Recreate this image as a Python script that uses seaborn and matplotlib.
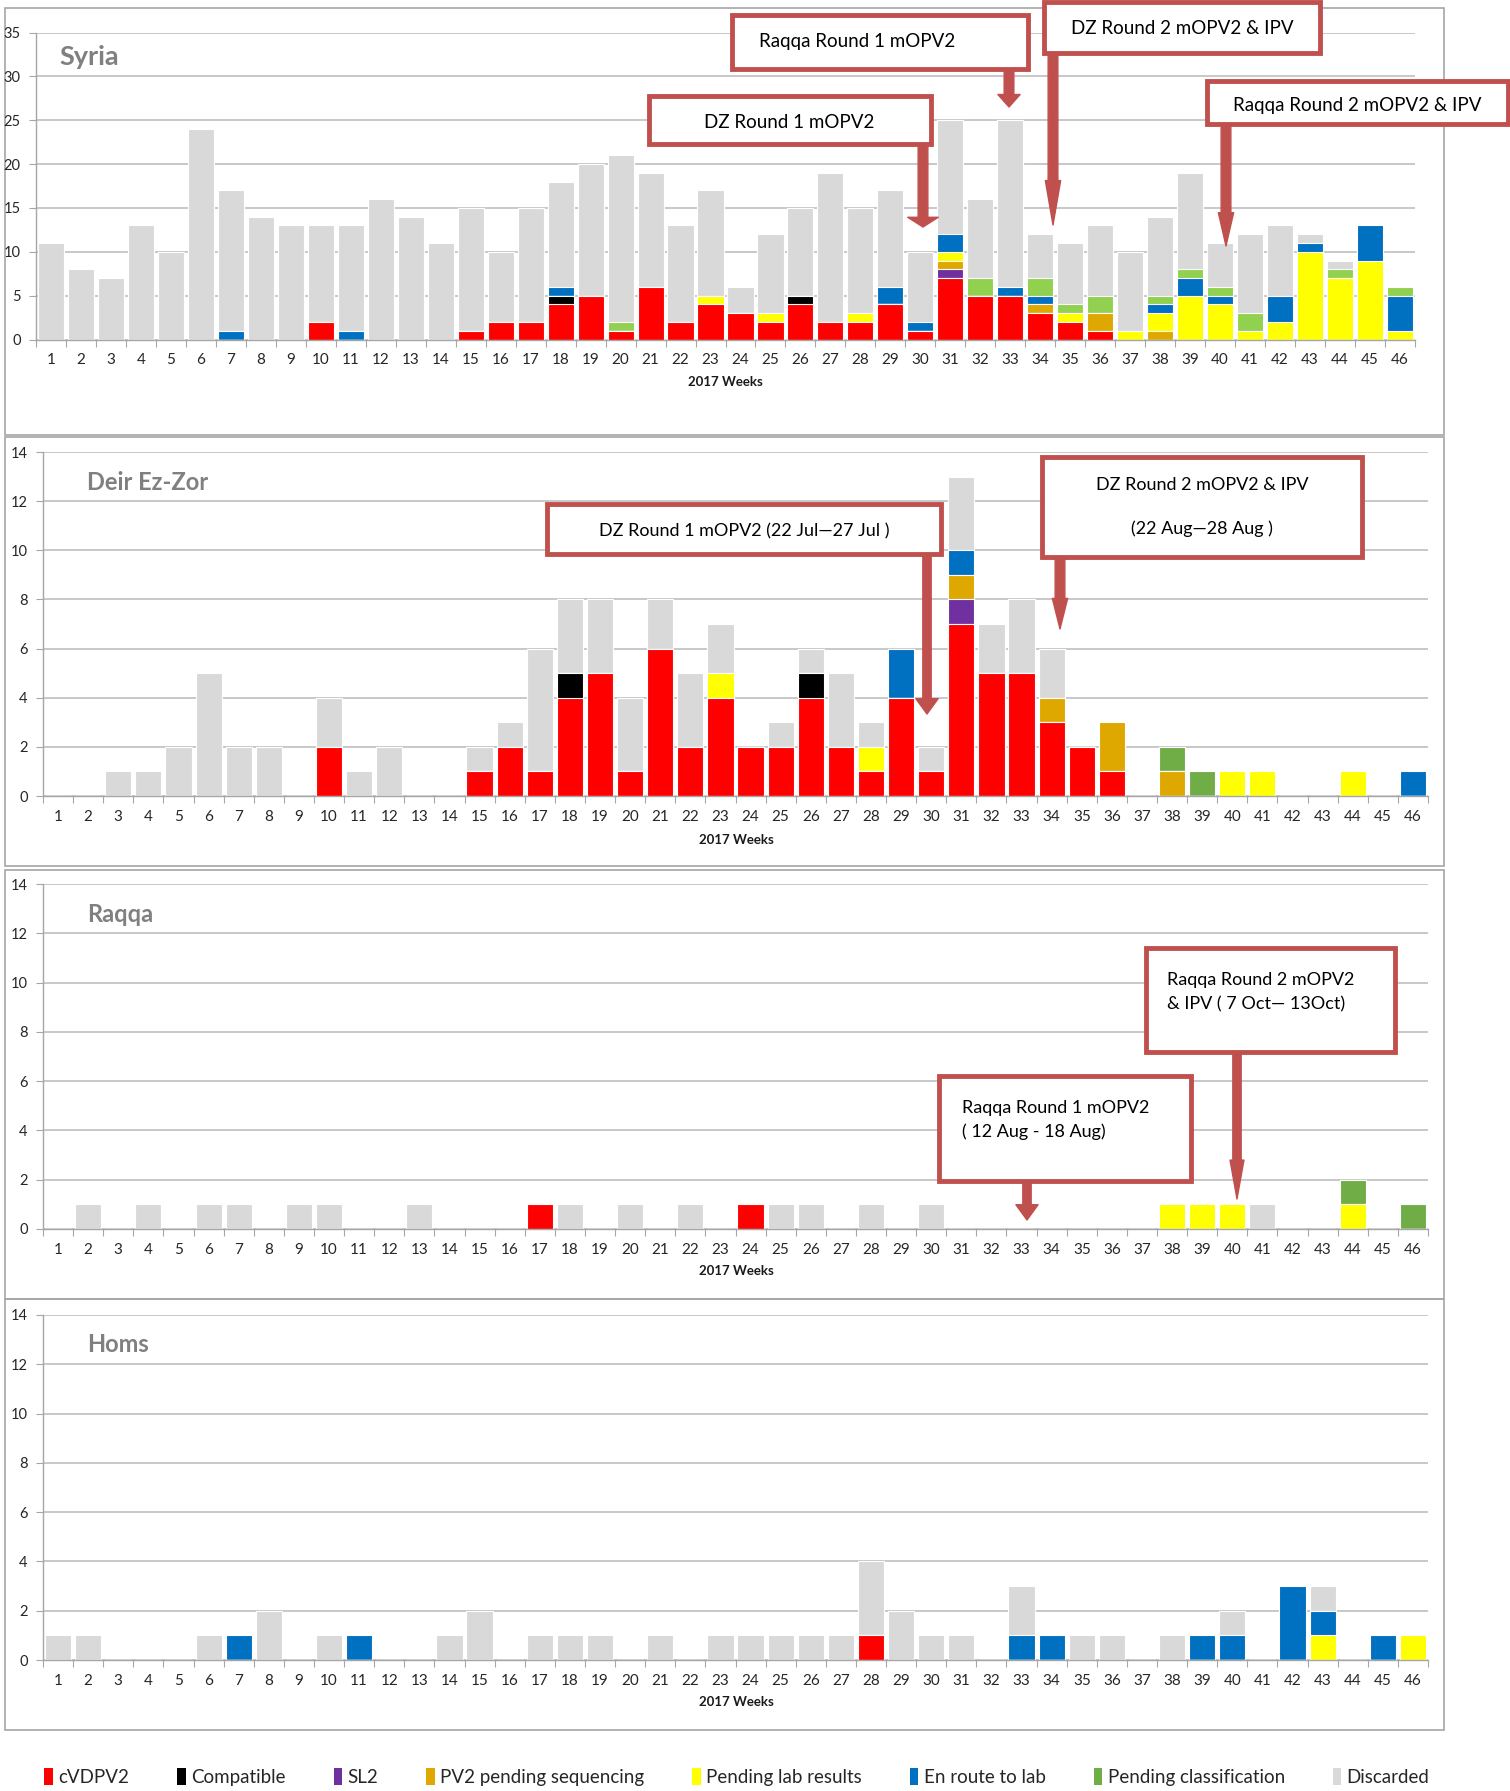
import matplotlib
matplotlib.use("Agg")
import pandas as pd
import matplotlib.pyplot as plt
import seaborn as sns
from matplotlib.patches import Rectangle, Patch, FancyArrowPatch

W, H = 1510, 1791

WEEKS = list(range(1, 47))
CATEGORIES = ["cVDPV2", "Compatible", "SL2", "PV2 pending sequencing",
              "Pending lab results", "En route to lab", "Pending classification", "Discarded"]
COLORS = ["#FF0000", "#000000", "#7030A0", "#DFA800",
          "#FFFF00", "#0070C0", "#70AD47", "#D9D9D9"]
SYRIA_GREEN = "#92D050"
CALLOUT_RED = "#C0504D"

NONE = [0] * 46

# ---- Syria (weeks 1..46) ----
SYRIA_CVDPV2 = [0, 0, 0, 0, 0, 0, 0, 0, 0, 2,  0, 0, 0, 0, 1, 2, 2, 4, 5, 1,
                6, 2, 4, 3, 2, 4, 2, 2, 4, 1,  7, 5, 5, 3, 2, 1, 0, 0, 0, 0,
                0, 0, 0, 0, 0, 0]
SYRIA_COMPATIBLE = [0, 0, 0, 0, 0, 0, 0, 0, 0, 0,  0, 0, 0, 0, 0, 0, 0, 1, 0, 0,
                    0, 0, 0, 0, 0, 1, 0, 0, 0, 0,  0, 0, 0, 0, 0, 0, 0, 0, 0, 0,
                    0, 0, 0, 0, 0, 0]
SYRIA_SL2 = [0, 0, 0, 0, 0, 0, 0, 0, 0, 0,  0, 0, 0, 0, 0, 0, 0, 0, 0, 0,
             0, 0, 0, 0, 0, 0, 0, 0, 0, 0,  1, 0, 0, 0, 0, 0, 0, 0, 0, 0,
             0, 0, 0, 0, 0, 0]
SYRIA_PV2_PENDING = [0, 0, 0, 0, 0, 0, 0, 0, 0, 0,  0, 0, 0, 0, 0, 0, 0, 0, 0, 0,
                     0, 0, 0, 0, 0, 0, 0, 0, 0, 0,  1, 0, 0, 1, 0, 2, 0, 1, 0, 0,
                     0, 0, 0, 0, 0, 0]
SYRIA_PENDING_LAB = [0, 0, 0, 0, 0, 0, 0, 0, 0, 0,  0, 0, 0, 0, 0, 0, 0, 0, 0, 0,
                     0, 0, 1, 0, 1, 0, 0, 1, 0, 0,  1, 0, 0, 0, 1, 0, 1, 2, 5, 4,
                     1, 2, 10, 7, 9, 1]
SYRIA_EN_ROUTE = [0, 0, 0, 0, 0, 0, 1, 0, 0, 0,  1, 0, 0, 0, 0, 0, 0, 1, 0, 0,
                  0, 0, 0, 0, 0, 0, 0, 0, 2, 1,  2, 0, 1, 1, 0, 0, 0, 1, 2, 1,
                  0, 3, 1, 0, 4, 4]
SYRIA_PENDING_CLASS = [0, 0, 0, 0, 0, 0, 0, 0, 0, 0,  0, 0, 0, 0, 0, 0, 0, 0, 0, 1,
                       0, 0, 0, 0, 0, 0, 0, 0, 0, 0,  0, 2, 0, 2, 1, 2, 0, 1, 1, 1,
                       2, 0, 0, 1, 0, 1]
SYRIA_DISCARDED = [11, 8, 7, 13, 10, 24, 16, 14, 13, 11,  12, 16, 14, 11, 14, 8, 13, 12, 15, 19,
                   13, 11, 12, 3, 9, 10, 17, 12, 11, 8,  13, 9, 19, 5, 7, 8, 9, 9, 11, 5,
                   9, 8, 1, 1, 0, 0]

# ---- Deir Ez-Zor ----
DZ_CVDPV2 = [0, 0, 0, 0, 0, 0, 0, 0, 0, 2,  0, 0, 0, 0, 1, 2, 1, 4, 5, 1,
             6, 2, 4, 2, 2, 4, 2, 1, 4, 1,  7, 5, 5, 3, 2, 1, 0, 0, 0, 0,
             0, 0, 0, 0, 0, 0]
DZ_COMPATIBLE = [0, 0, 0, 0, 0, 0, 0, 0, 0, 0,  0, 0, 0, 0, 0, 0, 0, 1, 0, 0,
                 0, 0, 0, 0, 0, 1, 0, 0, 0, 0,  0, 0, 0, 0, 0, 0, 0, 0, 0, 0,
                 0, 0, 0, 0, 0, 0]
DZ_SL2 = [0, 0, 0, 0, 0, 0, 0, 0, 0, 0,  0, 0, 0, 0, 0, 0, 0, 0, 0, 0,
          0, 0, 0, 0, 0, 0, 0, 0, 0, 0,  1, 0, 0, 0, 0, 0, 0, 0, 0, 0,
          0, 0, 0, 0, 0, 0]
DZ_PV2_PENDING = [0, 0, 0, 0, 0, 0, 0, 0, 0, 0,  0, 0, 0, 0, 0, 0, 0, 0, 0, 0,
                  0, 0, 0, 0, 0, 0, 0, 0, 0, 0,  1, 0, 0, 1, 0, 2, 0, 1, 0, 0,
                  0, 0, 0, 0, 0, 0]
DZ_PENDING_LAB = [0, 0, 0, 0, 0, 0, 0, 0, 0, 0,  0, 0, 0, 0, 0, 0, 0, 0, 0, 0,
                  0, 0, 1, 0, 0, 0, 0, 1, 0, 0,  0, 0, 0, 0, 0, 0, 0, 0, 0, 1,
                  1, 0, 0, 1, 0, 0]
DZ_EN_ROUTE = [0, 0, 0, 0, 0, 0, 0, 0, 0, 0,  0, 0, 0, 0, 0, 0, 0, 0, 0, 0,
               0, 0, 0, 0, 0, 0, 0, 0, 2, 0,  1, 0, 0, 0, 0, 0, 0, 0, 0, 0,
               0, 0, 0, 0, 0, 1]
DZ_PENDING_CLASS = [0, 0, 0, 0, 0, 0, 0, 0, 0, 0,  0, 0, 0, 0, 0, 0, 0, 0, 0, 0,
                    0, 0, 0, 0, 0, 0, 0, 0, 0, 0,  0, 0, 0, 0, 0, 0, 0, 1, 1, 0,
                    0, 0, 0, 0, 0, 0]
DZ_DISCARDED = [0, 0, 1, 1, 2, 5, 2, 2, 0, 2,  1, 2, 0, 0, 1, 1, 5, 3, 3, 3,
                2, 3, 2, 0, 1, 1, 3, 1, 0, 1,  3, 2, 3, 2, 0, 0, 0, 0, 0, 0,
                0, 0, 0, 0, 0, 0]

# ---- Raqqa ----
RQ_CVDPV2 = [0, 0, 0, 0, 0, 0, 0, 0, 0, 0,  0, 0, 0, 0, 0, 0, 1, 0, 0, 0,
             0, 0, 0, 1, 0, 0, 0, 0, 0, 0,  0, 0, 0, 0, 0, 0, 0, 0, 0, 0,
             0, 0, 0, 0, 0, 0]
RQ_PENDING_LAB = [0, 0, 0, 0, 0, 0, 0, 0, 0, 0,  0, 0, 0, 0, 0, 0, 0, 0, 0, 0,
                  0, 0, 0, 0, 0, 0, 0, 0, 0, 0,  0, 0, 0, 0, 0, 0, 0, 1, 1, 1,
                  0, 0, 0, 1, 0, 0]
RQ_PENDING_CLASS = [0, 0, 0, 0, 0, 0, 0, 0, 0, 0,  0, 0, 0, 0, 0, 0, 0, 0, 0, 0,
                    0, 0, 0, 0, 0, 0, 0, 0, 0, 0,  0, 0, 0, 0, 0, 0, 0, 0, 0, 0,
                    0, 0, 0, 1, 0, 1]
RQ_DISCARDED = [0, 1, 0, 1, 0, 1, 1, 0, 1, 1,  0, 0, 1, 0, 0, 0, 0, 1, 0, 1,
                0, 1, 0, 0, 1, 1, 0, 1, 0, 1,  0, 0, 0, 0, 0, 0, 0, 0, 0, 0,
                1, 0, 0, 0, 0, 0]

# ---- Homs ----
HM_CVDPV2 = [0, 0, 0, 0, 0, 0, 0, 0, 0, 0,  0, 0, 0, 0, 0, 0, 0, 0, 0, 0,
             0, 0, 0, 0, 0, 0, 0, 1, 0, 0,  0, 0, 0, 0, 0, 0, 0, 0, 0, 0,
             0, 0, 0, 0, 0, 0]
HM_PENDING_LAB = [0, 0, 0, 0, 0, 0, 0, 0, 0, 0,  0, 0, 0, 0, 0, 0, 0, 0, 0, 0,
                  0, 0, 0, 0, 0, 0, 0, 0, 0, 0,  0, 0, 0, 0, 0, 0, 0, 0, 0, 0,
                  0, 0, 1, 0, 0, 1]
HM_EN_ROUTE = [0, 0, 0, 0, 0, 0, 1, 0, 0, 0,  1, 0, 0, 0, 0, 0, 0, 0, 0, 0,
               0, 0, 0, 0, 0, 0, 0, 0, 0, 0,  0, 0, 1, 1, 0, 0, 0, 0, 1, 1,
               0, 3, 1, 0, 1, 0]
HM_DISCARDED = [1, 1, 0, 0, 0, 1, 0, 2, 0, 1,  0, 0, 0, 1, 2, 0, 1, 1, 1, 0,
                1, 0, 1, 1, 1, 1, 1, 3, 2, 1,  1, 0, 2, 0, 1, 1, 0, 1, 0, 1,
                0, 0, 1, 0, 0, 0]

SYRIA = [SYRIA_CVDPV2, SYRIA_COMPATIBLE, SYRIA_SL2, SYRIA_PV2_PENDING,
         SYRIA_PENDING_LAB, SYRIA_EN_ROUTE, SYRIA_PENDING_CLASS, SYRIA_DISCARDED]
DEIR = [DZ_CVDPV2, DZ_COMPATIBLE, DZ_SL2, DZ_PV2_PENDING,
        DZ_PENDING_LAB, DZ_EN_ROUTE, DZ_PENDING_CLASS, DZ_DISCARDED]
RAQQA = [RQ_CVDPV2, NONE, NONE, NONE, RQ_PENDING_LAB, NONE, RQ_PENDING_CLASS, RQ_DISCARDED]
HOMS = [HM_CVDPV2, NONE, NONE, NONE, HM_PENDING_LAB, HM_EN_ROUTE, NONE, HM_DISCARDED]

sns.set_theme(style="white")
plt.rcParams['font.family'] = ['Lato', 'DejaVu Sans']

fig = plt.figure(figsize=(W / 100, H / 100), dpi=100)


def fx(x):
    return x / W


def fy(y):
    return 1 - y / H


def add_axes_px(left, top, right, bottom):
    return fig.add_axes([fx(left), fy(bottom), (right - left) / W, (bottom - top) / H])


def draw_panel(ax, series, colors, ymax, ystep):
    df = pd.DataFrame(dict(zip(CATEGORIES, series)))
    df["week"] = WEEKS
    stacked = df[CATEGORIES].cumsum(axis=1)
    # overdraw cumulative totals from the top category down to the bottom one
    for cat, color in zip(CATEGORIES[::-1], colors[::-1]):
        sns.barplot(x=df["week"], y=stacked[cat], color=color, width=0.87, saturation=1,
                    edgecolor="white", linewidth=0.8, errorbar=None, ax=ax)
    ax.set_xlim(-0.5, 45.5)
    ax.set_ylim(0, ymax)
    ax.set_yticks(range(0, ymax + 1, ystep))
    ax.set_xlabel("")
    ax.set_ylabel("")
    ax.yaxis.grid(True, color="#BFBFBF", linewidth=1.2)
    ax.set_axisbelow(True)
    for side in ["top", "right"]:
        ax.spines[side].set_visible(False)
    for side in ["left", "bottom"]:
        ax.spines[side].set_color("#A6A6A6")
        ax.spines[side].set_linewidth(1.0)
    ax.set_xticks([i - 0.5 for i in range(47)], minor=True)
    ax.tick_params(axis="x", which="major", length=0, pad=10, labelsize=11, labelcolor="#262626")
    ax.tick_params(axis="x", which="minor", bottom=True, length=5, width=0.8, color="#A6A6A6")
    ax.tick_params(axis="y", left=True, length=5, width=0.8, color="#A6A6A6",
                   labelsize=10.5, labelcolor="#262626", pad=6)


def panel_box(top, bottom):
    fig.add_artist(Rectangle((fx(5), fy(bottom)), (1444 - 5) / W, (bottom - top) / H,
                             transform=fig.transFigure, fill=False,
                             edgecolor="#A6A6A6", linewidth=1.2, zorder=0))


def callout(box, lines, text_xy, ha, arrow_x, tip_y, fontsize, tail, head_w, head_l, spacing=1.6):
    x0, y0, x1, y1 = box
    fig.add_artist(Rectangle((fx(x0), fy(y1)), (x1 - x0) / W, (y1 - y0) / H,
                             transform=fig.transFigure, facecolor="white",
                             edgecolor=CALLOUT_RED, linewidth=3.5, zorder=10))
    fig.text(fx(text_xy[0]), fy(text_xy[1]), lines, ha=ha, va="center", fontsize=fontsize,
             color="black", linespacing=spacing, zorder=11)
    style = f"simple,head_length={head_l},head_width={head_w},tail_width={tail}"
    fig.add_artist(FancyArrowPatch((fx(arrow_x), fy(y1 + 2)), (fx(arrow_x), fy(tip_y)),
                                   transform=fig.transFigure, arrowstyle=style,
                                   mutation_scale=1, shrinkA=0, shrinkB=0,
                                   color=CALLOUT_RED, zorder=9))


# panel frames
panel_box(8, 435)
panel_box(437, 866)
panel_box(870, 1299)
panel_box(1299, 1730)

syria_colors = COLORS[:6] + [SYRIA_GREEN] + COLORS[7:]

ax_syria = add_axes_px(36, 32.5, 1415, 339.5)
draw_panel(ax_syria, SYRIA, syria_colors, 35, 5)
ax_deir = add_axes_px(43, 452, 1428, 796)
draw_panel(ax_deir, DEIR, COLORS, 14, 2)
ax_raqqa = add_axes_px(43, 884, 1428, 1229)
draw_panel(ax_raqqa, RAQQA, COLORS, 14, 2)
ax_homs = add_axes_px(43, 1315, 1428, 1660)
draw_panel(ax_homs, HOMS, COLORS, 14, 2)

# panel titles and x-axis titles
for name, x, y, size in [("Syria", 59, 57, 19.5), ("Deir Ez-Zor", 87, 482, 17),
                         ("Raqqa", 87, 915, 17), ("Homs", 87, 1344, 17)]:
    fig.text(fx(x), fy(y), name, fontsize=size, fontweight="bold", color="#808080",
             ha="left", va="center")
for x, y in [(725, 382), (736, 840), (736, 1271), (736, 1702)]:
    fig.text(fx(x), fy(y), "2017 Weeks", fontsize=9.5, fontweight="bold",
             color="#1A1A1A", ha="center", va="center")

# campaign callouts - Syria
callout((732, 15, 1028, 69), "Raqqa Round 1 mOPV2", (857, 42), "center", 1009, 107, 13.5, 7, 16, 9)
callout((1044, 2, 1320, 53), "DZ Round 2 mOPV2 & IPV", (1182, 29), "center", 1053, 225, 13.5, 7, 11, 32)
callout((1207, 81, 1508, 124), "Raqqa Round 2 mOPV2 & IPV", (1357, 106), "center", 1226, 246, 13.5, 7, 11, 24)
callout((649, 96, 931, 144), "DZ Round 1 mOPV2", (789, 123), "center", 923, 227, 13.5, 7, 22, 7)
# Deir Ez-Zor
callout((547, 504, 941, 554), "DZ Round 1 mOPV2 (22 Jul\u201427 Jul )", (744, 531), "center",
        927, 714, 13, 6, 16, 11)
callout((1042, 457, 1362, 557), "DZ Round 2 mOPV2 & IPV\n\n(22 Aug\u201428 Aug )", (1202, 507),
        "center", 1060, 629, 13, 7, 11, 22, spacing=1.4)
# Raqqa
callout((1146, 948, 1395, 1052), "Raqqa Round 2 mOPV2\n& IPV ( 7 Oct\u2014 13Oct)", (1167, 992),
        "left", 1237, 1199, 13, 6, 10, 28)
callout((939, 1076, 1191, 1181), "Raqqa Round 1 mOPV2\n( 12 Aug - 18 Aug)", (962, 1120),
        "left", 1027, 1220, 13, 6, 16, 11)

# legend
handles = [Patch(facecolor=c, edgecolor="none") for c in COLORS]
fig.legend(handles, CATEGORIES, loc="center", bbox_to_anchor=(fx(737), fy(1777)), ncol=8,
           frameon=False, fontsize=13.5, handlelength=0.45, handleheight=1.0,
           handletextpad=0.3, columnspacing=2.55)

fig.savefig("out.png", dpi=100)
